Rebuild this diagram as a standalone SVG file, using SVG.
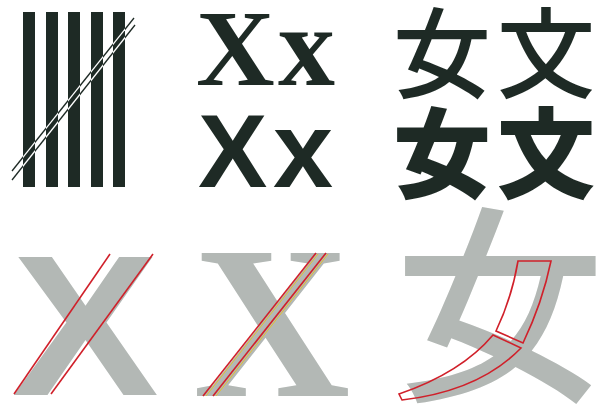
<svg xmlns="http://www.w3.org/2000/svg" width="601" height="407" viewBox="0 0 601 407">
<style>
.dark{fill:#1e2a25}
.gray{fill:#b3b8b5}
.red{fill:none;stroke:#d0202a;stroke-width:1.6}
.yel{fill:none;stroke:#e8c020;stroke-width:0.9}
.dl{stroke:#1e2a25;stroke-width:1.3;fill:none}
.wl{stroke:#ffffff;stroke-width:1.3;fill:none}
.serif{font-family:"Liberation Serif",serif;font-weight:bold}
.sans{font-family:"Liberation Sans",sans-serif;font-weight:bold}
.cjk{font-family:"Noto Sans CJK JP","Noto Sans CJK SC",sans-serif}
</style>
<defs>
<clipPath id="barsClip">
<rect x="23" y="12" width="12" height="175"/>
<rect x="46" y="12" width="12" height="175"/>
<rect x="68" y="12" width="12" height="175"/>
<rect x="91" y="12" width="12" height="175"/>
<rect x="113" y="12" width="12" height="175"/>
</clipPath>
</defs>
<rect width="601" height="407" fill="#ffffff"/>

<g id="bars">
<line class="dl" x1="12" y1="171" x2="134" y2="18"/>
<line class="dl" x1="12" y1="180" x2="135" y2="25"/>
<rect class="dark" x="23" y="12" width="12" height="175"/>
<rect class="dark" x="46" y="12" width="12" height="175"/>
<rect class="dark" x="68" y="12" width="12" height="175"/>
<rect class="dark" x="91" y="12" width="12" height="175"/>
<rect class="dark" x="113" y="12" width="12" height="175"/>
<g clip-path="url(#barsClip)">
<line class="wl" x1="12" y1="171" x2="134" y2="18"/>
<line class="wl" x1="12" y1="180" x2="135" y2="25"/>
</g>
</g>

<g id="serif-xx">
<text class="serif dark" x="196" y="85" font-size="109">X<tspan x="278" font-size="114">x</tspan></text>
</g>
<g id="sans-xx">
<text class="sans dark" x="198" y="187" font-size="104">X<tspan x="273" font-size="108">x</tspan></text>
</g>

<g id="cjk-top">
<text class="cjk dark" x="393" y="90" font-size="98" font-weight="500">女</text>
<text class="cjk dark" x="497" y="90" font-size="98" font-weight="500">文</text>
</g>
<g id="cjk-bottom">
<text class="cjk dark" x="393" y="190" font-size="98" font-weight="900">女</text>
<text class="cjk dark" x="497" y="190" font-size="98" font-weight="900">文</text>
</g>

<g id="big-sans-x">
<text class="sans gray" transform="translate(12,395) scale(1.1,1)" x="0" y="0" font-size="200">X</text>
<line class="red" x1="14" y1="394" x2="110" y2="254"/>
<line class="red" x1="51" y1="394" x2="153" y2="254"/>
</g>

<g id="big-serif-x">
<text class="serif gray" x="193" y="396" font-size="218">X</text>
<line class="yel" x1="206" y1="396" x2="318" y2="254"/>
<line class="yel" x1="216" y1="396" x2="328" y2="254"/>
<line class="red" x1="203" y1="396" x2="316" y2="253"/>
<line class="red" x1="213" y1="396" x2="326" y2="253"/>
</g>

<g id="big-cjk">
<text class="cjk gray" x="395" y="385" font-size="210" font-weight="500">女</text>
<path class="red" d="M518,261 L551,261 C545,290 535,318 523,343 L496,331 C506,310 514,285 518,261 Z"/>
<path class="red" d="M493,335 L521,348 C490,380 445,395 402,400 L399,394 C440,380 472,360 493,335 Z"/>
</g>
</svg>
